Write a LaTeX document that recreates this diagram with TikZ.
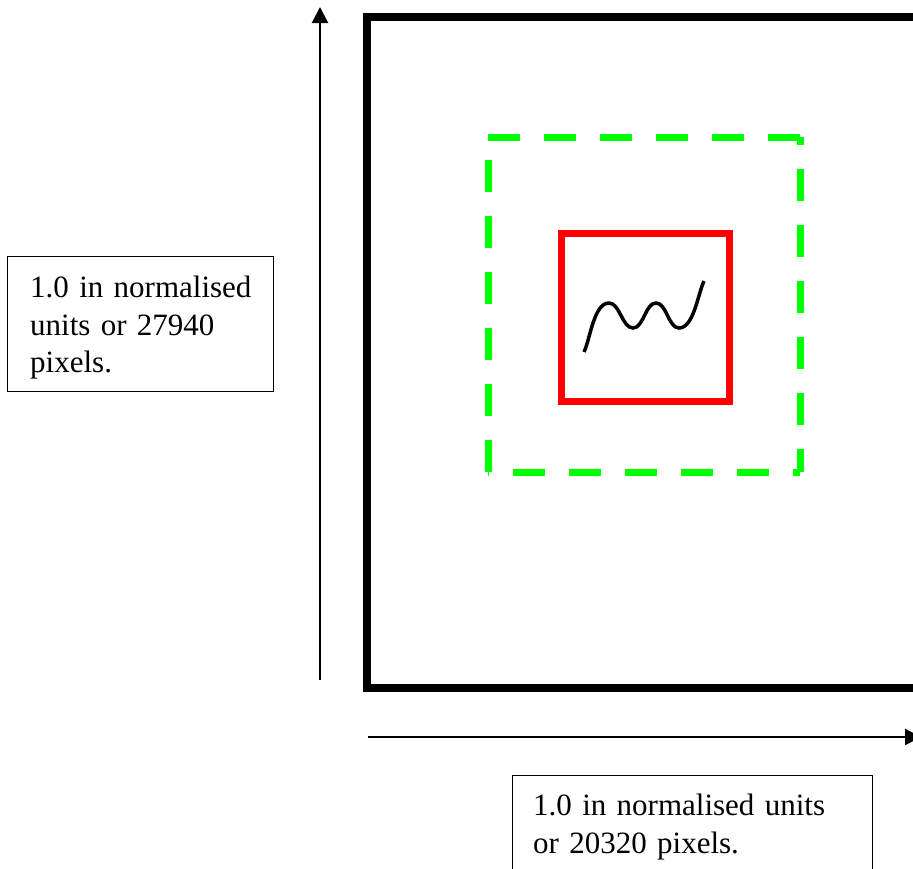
\documentclass[tikz,border=0pt]{standalone}
\usepackage{fontspec}
\setmainfont{Liberation Serif}
\usepackage{xcolor}
\usetikzlibrary{arrows.meta, positioning}
\definecolor{framegreen}{HTML}{00FF00}
\definecolor{framered}{HTML}{FF0000}
\tikzstyle{notebox} = [rectangle, draw=black, line width=1.3pt, inner sep=0pt]
\tikzstyle{notetext} = [inner sep=0pt, text width=330pt, align=left,
                        font=\fontsize{31}{37.5}\selectfont]
\tikzstyle{axisarrow} = [-{Triangle[length=16pt, width=16pt]}, line width=2.2pt]
\tikzstyle{greendash} = [draw=framegreen, line width=7pt, dash pattern=on 32pt off 24pt]

\begin{document}
\begin{tikzpicture}[x=1pt, y=-1pt]
    \useasboundingbox (0,0) rectangle (913,868);

    % outer page frame
    \draw[line width=8pt] (367,17) rectangle (922,688);

    % dashed frame, one side at a time
    \draw[greendash] (488,137) -- (800,137);
    \draw[greendash, dash phase=24pt] (800,137) -- (800,472);
    \draw[greendash, dash phase=25pt] (800,472) -- (488,472);
    \draw[greendash] (488,472) -- (488,137);

    % inner frame
    \draw[draw=framered, line width=7pt] (561,233) rectangle (729,401);

    % squiggle
    \draw[line width=3.5pt] (584,352) to[out=65, in=180, looseness=0.7] (609,303)
        to[out=0, in=180, looseness=0.8] (633,328) to[out=0, in=180, looseness=0.8] (656,303)
        to[out=0, in=180, looseness=0.8] (679,328) to[out=0, in=245, looseness=0.7] (704,281);

    % axes
    \coordinate (ybot) at (320,680);
    \coordinate (ytop) at (320,7);
    \coordinate (xleft) at (368,737);
    \coordinate (xright) at (921,737);
    \draw[axisarrow] (ybot) -- (ytop);
    \draw[axisarrow] (xleft) -- (xright);

    % labels
    \node[notebox, minimum width=266pt, minimum height=135pt, anchor=north west] (yframe) at (7,256) {};
    \node[notetext, anchor=north west] (ylabel) at (30,275.8) {1.0 in normalised\\units or 27940\\pixels.};

    \node[notebox, minimum width=360pt, minimum height=110pt, anchor=north west] (xframe) at (512,775) {};
    \node[notetext, anchor=north west] (xlabel) at (533,793.8) {1.0 in normalised units\\or 20320 pixels.};
\end{tikzpicture}
\end{document}
